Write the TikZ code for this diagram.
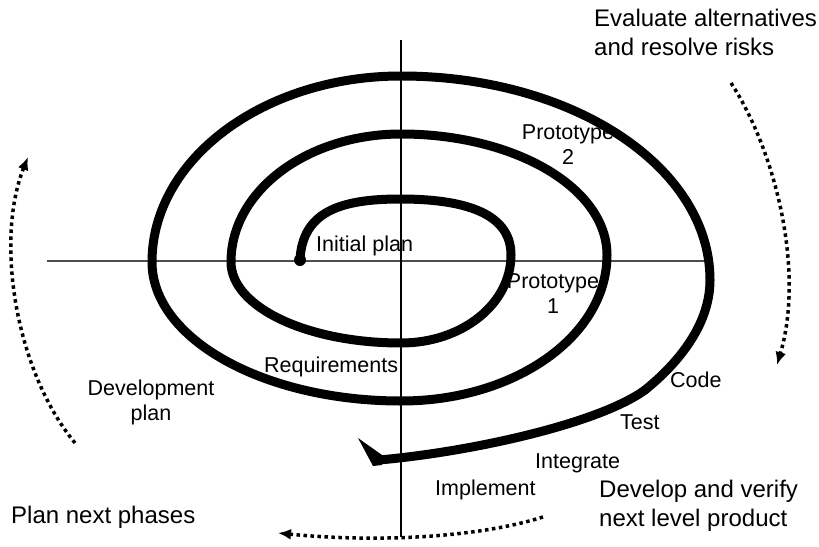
\documentclass[tikz,border=0pt]{standalone}
\usepackage{fontspec}
\setmainfont{Liberation Sans}
\usetikzlibrary{arrows.meta}
\begin{document}
\begin{tikzpicture}[x=1pt,y=-1pt,
  spiral/.style={line width=9pt, line cap=round, line join=round},
  dotarrow/.style={line width=3.5pt, dash pattern=on 3.5pt off 3.5pt, -{Latex[length=13pt,width=11pt]}},
  lbl/.style={font=\fontsize{21.5}{25}\selectfont, inner sep=0pt, anchor=base},
  big/.style={font=\fontsize{24}{28.5}\selectfont, inner sep=0pt, align=left, anchor=base west}]
\useasboundingbox (0,0) rectangle (819,546);
% axes
\coordinate (hL) at (47,261);
\coordinate (hR) at (708,261);
\coordinate (vT) at (401,40);
\coordinate (vB) at (401,537);
\draw[line width=1.3pt, black!70] (hL) -- (hR);
\draw[line width=1.2pt] (vT) -- (vB);
% spiral
\draw[spiral] (300,259) .. controls (303,213) and (338,199) .. (400,199)
 .. controls (473,199) and (511,217) .. (511,255)
 .. controls (511,304) and (462,343) .. (401,343)
 .. controls (307,343) and (231,307) .. (231,262)
 .. controls (231,191) and (307,134) .. (401,134)
 .. controls (515,134) and (607,188) .. (607,255)
 .. controls (607,336) and (515,401) .. (401,401)
 .. controls (264,401) and (152,339) .. (152,262)
 .. controls (152,159) and (264,76) .. (401,76)
 .. controls (573,76) and (710,167) .. (710,280)
 .. controls (710,322) and (682,360) .. (645,390)
 .. controls (598,424) and (470,452) .. (379,460);
\fill (300,260) circle (6);
\fill (358,438) -- (382,455) -- (382,465) -- (373,466) -- cycle;
% dotted arrows
\draw[dotarrow] (731,83) .. controls (775,150) and (805,270) .. (777,365);
\draw[dotarrow] (543,517) .. controls (480,537) and (380,543) .. (278,533);
\draw[dotarrow] (75,443) .. controls (15,370) and (-5,240) .. (28,157);
% labels
\node[lbl, anchor=base west] (init) at (316,251) {Initial plan};
\node[lbl, align=center] (p2) at (568,164.5) {Prototype\\2};
\node[lbl, align=center] (p1) at (553,313.5) {Prototype\\1};
\node[lbl, anchor=base west] (req) at (264,372.5) {Requirements};
\node[lbl, align=center] (dev) at (151,420.5) {Development\\plan};
\node[lbl, anchor=base west] (code) at (670,387.5) {Code};
\node[lbl, anchor=base west] (test) at (620,429.5) {Test};
\node[lbl, anchor=base west] (integ) at (535,468.5) {Integrate};
\node[lbl, anchor=base west] (impl) at (435,495.5) {Implement};
\node[big] (eval) at (594,55.3) {Evaluate alternatives\\and resolve risks};
\node[big] (devv) at (599,526) {Develop and verify\\next level product};
\node[big] (plan) at (11,523.6) {Plan next phases};
\end{tikzpicture}
\end{document}
